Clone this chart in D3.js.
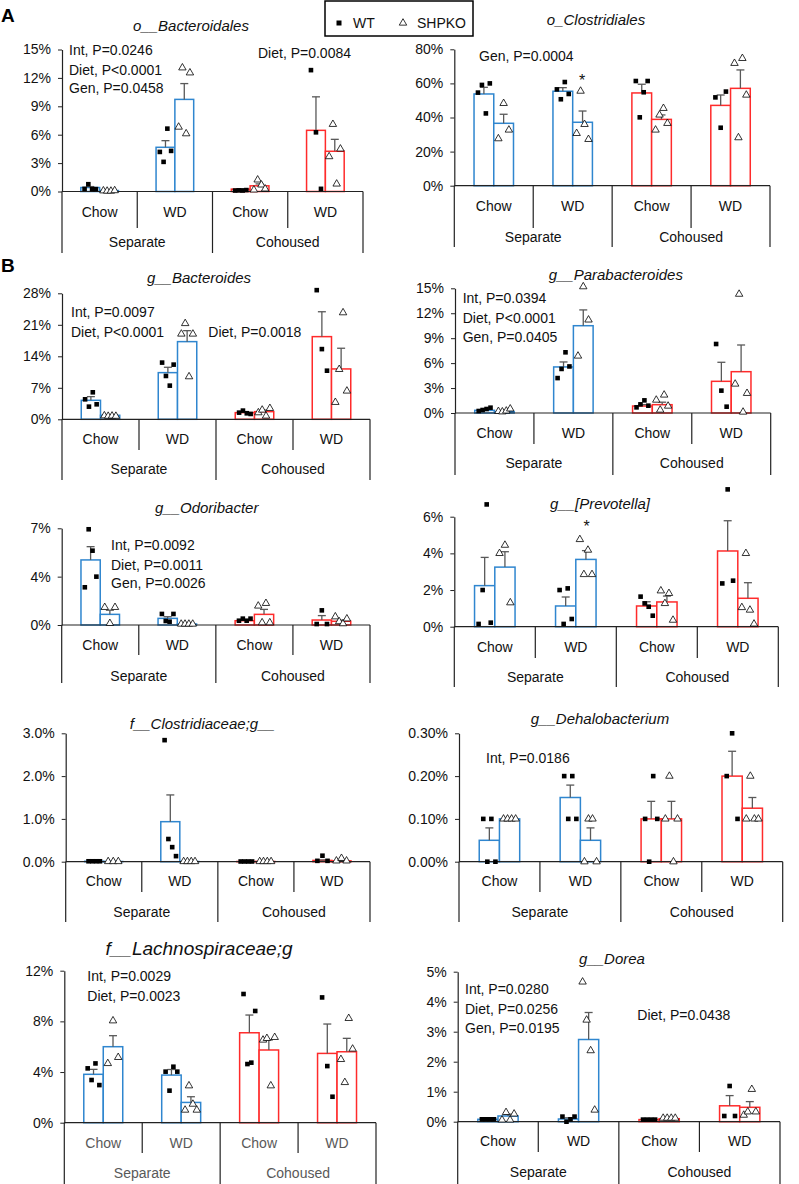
<!DOCTYPE html>
<html><head><meta charset="utf-8">
<script src="https://cdn.jsdelivr.net/npm/d3@7"></script>
<style>
body{margin:0;background:#fff}
svg{display:block}
text{font-family:"Liberation Sans",Arial,sans-serif}
</style>
</head><body>
<svg id="c" width="799" height="1184"></svg>
<script>
// ---------- shared categories ----------
const categories = ["Chow","WD","Chow","WD"];
const housing = ["Separate","Cohoused"];
const genotypes = ["WT","SHPKO"];
// bar order: SepChow WT, SepChow KO, SepWD WT, SepWD KO, CohChow WT, CohChow KO, CohWD WT, CohWD KO (values in %)

// ---------- o__Bacteroidales ----------
const bacteroidalesMean = [0.42,0.10,4.67,9.73,0.25,0.60,6.46,4.25];
const bacteroidalesSem  = [0.10,0.03,0.70,1.67,0.05,0.20,3.54,1.26];
const bacteroidalesPts  = [[0.28,0.77,0.25,0.25],[0.08,0.05,0.05,0.1],[4.18,3.13,6.64,4.29],[6.81,13.07,6.11,12.54],[0.1,0.12,0.1,0.15],[0.17,1.23,0.7,0.28],[12.82,6.25,0.28],[3.69,7.1,0.8,4.5]];
const bacteroidalesTicks = [0,3,6,9,12,15];
const bacteroidalesTickLabels = ["0%","3%","6%","9%","12%","15%"];
const bacteroidalesNotes = ["Int, P=0.0246","Diet, P<0.0001","Gen, P=0.0458","Diet, P=0.0084"];

// ---------- o_Clostridiales ----------
const clostridialesMean = [53.8,36.6,55.4,37.2,54.4,38.9,47.1,57.1];
const clostridialesSem  = [3.9,5.3,2.1,6.6,5.1,2.6,6.1,10.8];
const clostridialesPts  = [[54.6,59.1,42.4,60.0],[27.6,48.3,32.7],[56.5,50.7,60.8,53.8],[30.7,55.5,36.0,27.2],[61.4,40.1,54.8,61.4],[32.7,41.5,45.4,36.6],[51.8,34.0,55.2],[71.8,28.2,74.7,53.2]];
const clostridialesTicks = [0,20,40,60,80];
const clostridialesTickLabels = ["0%","20%","40%","60%","80%"];
const clostridialesNotes = ["Gen, P=0.0004"];

// ---------- g__Bacteroides ----------
const bacteroidesMean = [4.22,0.89,10.37,17.26,1.48,1.70,18.37,11.19];
const bacteroidesSem  = [0.82,0.15,1.19,2.44,0.25,0.35,5.53,4.6];
const bacteroidesPts  = [[4.44,2.81,6.0,3.33],[0.8,0.7,0.75,0.7],[12.6,9.63,7.48,12.15],[18.96,21.3,9.48,18.96],[1.48,1.93,1.33,1.19],[1.48,2.07,0.74,2.44],[28.7,15.6,10.8],[3.78,11.1,23.7,6.3]];
const bacteroidesTicks = [0,7,14,21,28];
const bacteroidesTickLabels = ["0%","7%","14%","21%","28%"];
const bacteroidesNotes = ["Int, P=0.0097","Diet, P<0.0001","Diet, P=0.0018"];

// ---------- g__Parabacteroides ----------
const parabacteroidesMean = [0.32,0.16,5.54,10.5,0.84,1.0,3.81,4.97];
const parabacteroidesSem  = [0.1,0.1,0.6,1.9,0.17,0.3,2.29,3.21];
const parabacteroidesPts  = [[0.24,0.36,0.48,0.64],[0.2,0.15,0.25,0.5],[4.2,5.3,7.3,5.6],[6.86,15.2,11.2],[0.68,1.04,1.52,0.88],[1.56,0.36,2.17,0.84],[8.3,2.69,0.76],[3.49,14.3,0.12,2.37]];
const parabacteroidesTicks = [0,3,6,9,12,15];
const parabacteroidesTickLabels = ["0%","3%","6%","9%","12%","15%"];
const parabacteroidesNotes = ["Int, P=0.0394","Diet, P<0.0001","Gen, P=0.0405"];

// ---------- g__Odoribacter ----------
const odoribacterMean = [4.71,0.77,0.48,0.07,0.31,0.77,0.36,0.27];
const odoribacterSem  = [0.96,0.3,0.12,0.02,0.04,0.36,0.32,0.08];
const odoribacterPts  = [[2.73,6.93,5.38,3.5],[1.28,0.12,1.28],[0.8,0.29,0.24,0.8],[0.07,0.07,0.07,0.07],[0.31,0.46,0.31,0.46],[1.38,0.17,1.57,0.17],[0.07,1.06,0.07],[0.6,0.25,0.1,0.45]];
const odoribacterTicks = [0,3.5,7];
const odoribacterTickLabels = ["0%","4%","7%"];
const odoribacterNotes = ["Int, P=0.0092","Diet, P=0.0011","Gen, P=0.0026"];

// ---------- g__[Prevotella] ----------
const prevotellaMean = [2.24,3.25,1.13,3.67,1.13,1.35,4.13,1.55];
const prevotellaSem  = [1.54,0.84,0.49,0.48,0.23,0.32,1.65,0.85];
const prevotellaPts  = [[0.15,2.0,6.67,0.22],[4.0,4.45,1.31],[2.0,0.15,2.09,0.42],[4.76,2.85,4.18,2.85],[1.64,1.27,1.09,0.6],[1.96,1.27,1.82,0.36],[2.36,7.49,2.51],[1.05,4.0,0.91,0.15]];
const prevotellaTicks = [0,2,4,6];
const prevotellaTickLabels = ["0%","2%","4%","6%"];
const prevotellaNotes = [];

// ---------- f__Clostridiaceae;g__ ----------
const clostridiaceaeMean = [0.01,0.005,0.935,0.005,0.005,0.005,0.03,0.02];
const clostridiaceaeSem  = [0,0,0.625,0,0,0,0.01,0.01];
const clostridiaceaePts  = [[0.01,0.01,0.01,0.01],[0.005,0.005,0.005],[2.84,0.53,0.34,0.13],[0.005,0.005,0.005,0.005],[0.005,0.005,0.005,0.005],[0.005,0.005,0.005,0.005],[0.02,0.14,0.02],[0.02,0.08,0.02]];
const clostridiaceaeTicks = [0,1,2,3];
const clostridiaceaeTickLabels = ["0.0%","1.0%","2.0%","3.0%"];
const clostridiaceaeNotes = [];

// ---------- g__Dehalobacterium ----------
const dehalobacteriumMean = [0.05,0.1,0.15,0.05,0.1,0.1,0.2,0.125];
const dehalobacteriumSem  = [0.029,0,0.029,0.029,0.041,0.041,0.058,0.025];
const dehalobacteriumPts  = [[0.1,0,0.1,0],[0.1,0.1,0.1,0.1],[0.2,0.1,0.2,0.1],[0,0.1,0.1,0],[0.1,0,0.2,0.1],[0.1,0.2,0,0.1],[0.2,0.3,0.1],[0.1,0.2,0.1,0.1]];
const dehalobacteriumTicks = [0,0.1,0.2,0.3];
const dehalobacteriumTickLabels = ["0.00%","0.10%","0.20%","0.30%"];
const dehalobacteriumNotes = ["Int, P=0.0186"];

// ---------- f__Lachnospiraceae;g ----------
const lachnospiraceaeMean = [3.82,6.0,3.76,1.6,7.1,5.74,5.47,5.6];
const lachnospiraceaeSem  = [0.39,0.87,0.44,0.45,1.4,0.79,2.32,1.06];
const lachnospiraceaePts  = [[4.29,3.37,4.68,2.97],[4.68,8.05,5.16],[4.03,2.53,4.42,4.03],[1.0,2.92,1.47,1.0],[10.16,4.63,4.74,8.82],[6.53,6.66,2.92,6.74],[9.89,4.47,2.05],[5.0,3.18,8.24,5.82]];
const lachnospiraceaeTicks = [0,4,8,12];
const lachnospiraceaeTickLabels = ["0%","4%","8%","12%"];
const lachnospiraceaeNotes = ["Int, P=0.0029","Diet, P=0.0023"];

// ---------- g__Dorea ----------
const doreaMean = [0.08,0.19,0.09,2.74,0.07,0.1,0.53,0.48];
const doreaSem  = [0,0.06,0.04,0.9,0,0.02,0.34,0.19];
const doreaPts  = [[0.08,0.08,0.08,0.08],[0.06,0.31,0.06,0.26],[0.17,0,0.08,0.17],[4.66,3.39,2.37,0.39],[0.07,0.07,0.07,0.07],[0.12,0.12,0.12,0.12],[0.19,1.19,0.19],[0.22,0.33,1.08,0.33]];
const doreaTicks = [0,1,2,3,4,5];
const doreaTickLabels = ["0%","1%","2%","3%","4%","5%"];
const doreaNotes = ["Int, P=0.0280","Diet, P=0.0256","Gen, P=0.0195","Diet, P=0.0438"];

// ---------- layout (positions / styles only) ----------
const COLORS = ["#2F86CF","#FF2B2B"];
const panels = [
 {title:"o__Bacteroidales", mean:bacteroidalesMean, sem:bacteroidalesSem, pts:bacteroidalesPts, ticks:bacteroidalesTicks, tl:bacteroidalesTickLabels, notes:bacteroidalesNotes,
  x0:62, x1:363, zeroY:191.5, topY:49.5, title_xy:[191,26], catY:212, groupY:242, innerEnd:228, outerEnd:253,
  notePos:[[69,50],[69,70],[69,88],[258,53.5]]},
 {title:"o_Clostridiales", mean:clostridialesMean, sem:clostridialesSem, pts:clostridialesPts, ticks:clostridialesTicks, tl:clostridialesTickLabels, notes:clostridialesNotes,
  x0:454.3, x1:770, zeroY:185.7, topY:49.3, title_xy:[596,20], catY:206, groupY:237, innerEnd:228, outerEnd:247,
  notePos:[[479,56]], stars:[[582,86]]},
 {title:"g__Bacteroides", mean:bacteroidesMean, sem:bacteroidesSem, pts:bacteroidesPts, ticks:bacteroidesTicks, tl:bacteroidesTickLabels, notes:bacteroidesNotes,
  x0:62, x1:370, zeroY:419.3, topY:293.3, title_xy:[199,277.7], catY:439, groupY:469, innerEnd:450, outerEnd:480,
  notePos:[[71,311.7],[71,331.7],[208.3,331.7]]},
 {title:"g__Parabacteroides", mean:parabacteroidesMean, sem:parabacteroidesSem, pts:parabacteroidesPts, ticks:parabacteroidesTicks, tl:parabacteroidesTickLabels, notes:parabacteroidesNotes,
  x0:455, x1:770.7, zeroY:413, topY:288.3, title_xy:[615.8,274.3], catY:432.7, groupY:463.3, innerEnd:444, outerEnd:475,
  notePos:[[462.7,298.3],[462.7,317.7],[462.7,336.7]]},
 {title:"g__Odoribacter", mean:odoribacterMean, sem:odoribacterSem, pts:odoribacterPts, ticks:odoribacterTicks, tl:odoribacterTickLabels, notes:odoribacterNotes,
  x0:61.7, x1:370, zeroY:625, topY:528.3, title_xy:[206.7,507.7], catY:645, groupY:675.7, innerEnd:655, outerEnd:683,
  notePos:[[111,545],[111,565],[111,583.3]]},
 {title:"g__[Prevotella]", mean:prevotellaMean, sem:prevotellaSem, pts:prevotellaPts, ticks:prevotellaTicks, tl:prevotellaTickLabels, notes:prevotellaNotes,
  x0:454.3, x1:778.3, zeroY:626.7, topY:516.7, title_xy:[600,503.3], catY:646.7, groupY:677.3, innerEnd:658, outerEnd:687,
  notePos:[], stars:[[586.7,532]]},
 {title:"f__Clostridiaceae;g__", mean:clostridiaceaeMean, sem:clostridiaceaeSem, pts:clostridiaceaePts, ticks:clostridiaceaeTicks, tl:clostridiaceaeTickLabels, notes:clostridiaceaeNotes,
  x0:65.7, x1:370, zeroY:861.7, topY:733.3, title_xy:[202.3,724], catY:881, groupY:911.7, innerEnd:892, outerEnd:922,
  notePos:[]},
 {title:"g__Dehalobacterium", mean:dehalobacteriumMean, sem:dehalobacteriumSem, pts:dehalobacteriumPts, ticks:dehalobacteriumTicks, tl:dehalobacteriumTickLabels, notes:dehalobacteriumNotes,
  x0:459, x1:782.7, zeroY:861.7, topY:733.3, title_xy:[600,718.3], catY:881, groupY:911.7, innerEnd:892, outerEnd:922,
  notePos:[[486,758.3]]},
 {title:"f__Lachnospiraceae;g", mean:lachnospiraceaeMean, sem:lachnospiraceaeSem, pts:lachnospiraceaePts, ticks:lachnospiraceaeTicks, tl:lachnospiraceaeTickLabels, notes:lachnospiraceaeNotes,
  x0:64.3, x1:376, zeroY:1122.7, topY:970.7, title_xy:[199,948.3], titleSize:19, catY:1142.7, groupY:1173.3, innerEnd:1153, outerEnd:1190,
  notePos:[[87.3,976],[87.3,996]], labelColor:"#595959"},
 {title:"g__Dorea", mean:doreaMean, sem:doreaSem, pts:doreaPts, ticks:doreaTicks, tl:doreaTickLabels, notes:doreaNotes,
  x0:457.7, x1:780, zeroY:1121.7, topY:971.7, title_xy:[612,958.3], catY:1140.7, groupY:1171.7, innerEnd:1152, outerEnd:1190,
  notePos:[[465,989.3],[465,1009.3],[465,1028.3],[637.3,1015]]}
];

const svg = d3.select("#c");
const TXT = "#111";
const tri = d3.symbol().type(d3.symbolTriangle).size(24);

function drawPanel(p){
  const g = svg.append("g");
  const x = d3.scaleBand().domain(d3.range(categories.length)).range([p.x0, p.x1]);
  const xg = d3.scaleBand().domain(genotypes).range([0, x.bandwidth()]).paddingOuter(1).paddingInner(0);
  const yMax = p.ticks[p.ticks.length-1];
  const y = d3.scaleLinear().domain([0, yMax]).range([p.zeroY, p.topY]);
  const bw = xg.bandwidth();
  const lc = p.labelColor || TXT;

  const bars = p.mean.map((m,i)=>({m, s:p.sem[i], pts:p.pts[i], cat:Math.floor(i/2), geno:genotypes[i%2], h:Math.floor(i/4)}));
  bars.forEach(b=>{ b.x = x(b.cat) + xg(b.geno); b.cx = b.x + bw/2; });

  // bars
  g.selectAll("rect.bar").data(bars).join("rect").attr("class","bar")
    .attr("x", d=>d.x).attr("width", bw)
    .attr("y", d=>y(d.m)).attr("height", d=>Math.max(0, p.zeroY - y(d.m)))
    .attr("fill","#fff").attr("stroke", d=>COLORS[d.h]).attr("stroke-width",1.5);

  // error bars
  const eb = bars.filter(d=>d.s>0);
  g.selectAll("line.eb").data(eb).join("line").attr("class","eb")
    .attr("x1",d=>d.cx).attr("x2",d=>d.cx).attr("y1",d=>y(d.m)).attr("y2",d=>y(d.m+d.s))
    .attr("stroke","#595959").attr("stroke-width",1.3);
  g.selectAll("line.cap").data(eb).join("line").attr("class","cap")
    .attr("x1",d=>d.cx-4).attr("x2",d=>d.cx+4).attr("y1",d=>y(d.m+d.s)).attr("y2",d=>y(d.m+d.s))
    .attr("stroke","#595959").attr("stroke-width",1.3);

  // axes lines
  const yAxis = d3.axisLeft(y).tickValues(p.ticks).tickFormat((d,i)=>p.tl[i]).tickSize(4).tickSizeOuter(0).tickPadding(7);
  const ya = g.append("g").attr("transform",`translate(${p.x0},0)`).call(yAxis);
  ya.select(".domain").attr("stroke","#222").attr("stroke-width",1.2);
  ya.selectAll(".tick line").attr("stroke","#222");
  ya.selectAll(".tick text").attr("font-size",14).attr("fill",TXT).attr("font-family",'"Liberation Sans",Arial,sans-serif');

  g.append("line").attr("x1",p.x0).attr("x2",p.x1).attr("y1",p.zeroY).attr("y2",p.zeroY).attr("stroke","#222").attr("stroke-width",1.2);
  const bounds = d3.range(categories.length+1).map(i=> i<categories.length ? x(i) : p.x1);
  bounds.forEach((bx,i)=>{
    const outer = (i%2===0);
    g.append("line").attr("x1",bx).attr("x2",bx).attr("y1",p.zeroY).attr("y2", outer ? p.outerEnd : p.innerEnd)
      .attr("stroke","#222").attr("stroke-width",1.2);
  });
  // category labels
  g.selectAll("text.cat").data(categories).join("text").attr("class","cat")
    .attr("x",(d,i)=>x(i)+x.bandwidth()/2).attr("y",p.catY).attr("dy","0.35em")
    .attr("text-anchor","middle").attr("font-size",14).attr("fill",lc).text(d=>d);
  g.selectAll("text.grp").data(housing).join("text").attr("class","grp")
    .attr("x",(d,i)=>(bounds[i*2]+bounds[i*2+2])/2).attr("y",p.groupY).attr("dy","0.35em")
    .attr("text-anchor","middle").attr("font-size",14).attr("fill",lc).text(d=>d);

  // points
  const pts = [];
  bars.forEach(b=>{
    const n = b.pts.length, step = bw*0.8/n;
    b.pts.forEach((v,j)=>pts.push({v, px: b.cx + (j-(n-1)/2)*step, geno:b.geno}));
  });
  g.selectAll("rect.wt").data(pts.filter(d=>d.geno==="WT")).join("rect").attr("class","wt")
    .attr("x",d=>d.px-2.3).attr("y",d=>y(d.v)-2.3).attr("width",4.6).attr("height",4.6).attr("fill","#000");
  g.selectAll("path.ko").data(pts.filter(d=>d.geno!=="WT")).join("path").attr("class","ko")
    .attr("d",tri).attr("transform",d=>`translate(${d.px},${y(d.v)})`)
    .attr("fill","#fff").attr("stroke","#000").attr("stroke-width",0.8);

  // title
  g.append("text").attr("x",p.title_xy[0]).attr("y",p.title_xy[1]).attr("dy","0.35em").attr("text-anchor","middle")
    .attr("font-style","italic").attr("font-size",p.titleSize||15).attr("fill",TXT).text(p.title);
  // notes
  p.notes.forEach((t,i)=>{
    g.append("text").attr("x",p.notePos[i][0]).attr("y",p.notePos[i][1]).attr("dy","0.35em")
      .attr("font-size",14).attr("fill",TXT).text(t);
  });
  (p.stars||[]).forEach(s=>{
    g.append("text").attr("x",s[0]).attr("y",s[1]).attr("text-anchor","middle").attr("font-size",16).attr("fill",TXT).text("*");
  });
}
panels.forEach(drawPanel);

// legend
const lg = svg.append("g");
lg.append("rect").attr("x",325).attr("y",1).attr("width",148).attr("height",35).attr("fill","#fff").attr("stroke","#000").attr("stroke-width",1.5);
lg.append("rect").attr("x",339-2.5).attr("y",23-2.5).attr("width",5).attr("height",5).attr("fill","#000");
lg.append("text").attr("x",353).attr("y",23).attr("dy","0.35em").attr("font-size",14).attr("fill",TXT).text(genotypes[0]);
lg.append("path").attr("d",tri).attr("transform","translate(403,23)").attr("fill","#fff").attr("stroke","#000").attr("stroke-width",0.8);
lg.append("text").attr("x",417).attr("y",23).attr("dy","0.35em").attr("font-size",14).attr("fill",TXT).text(genotypes[1]);

// panel letters
svg.append("text").attr("x",1).attr("y",22).attr("font-size",19).attr("font-weight","bold").attr("fill","#000").text("A");
svg.append("text").attr("x",1).attr("y",272).attr("font-size",19).attr("font-weight","bold").attr("fill","#000").text("B");
</script>
</body></html>
